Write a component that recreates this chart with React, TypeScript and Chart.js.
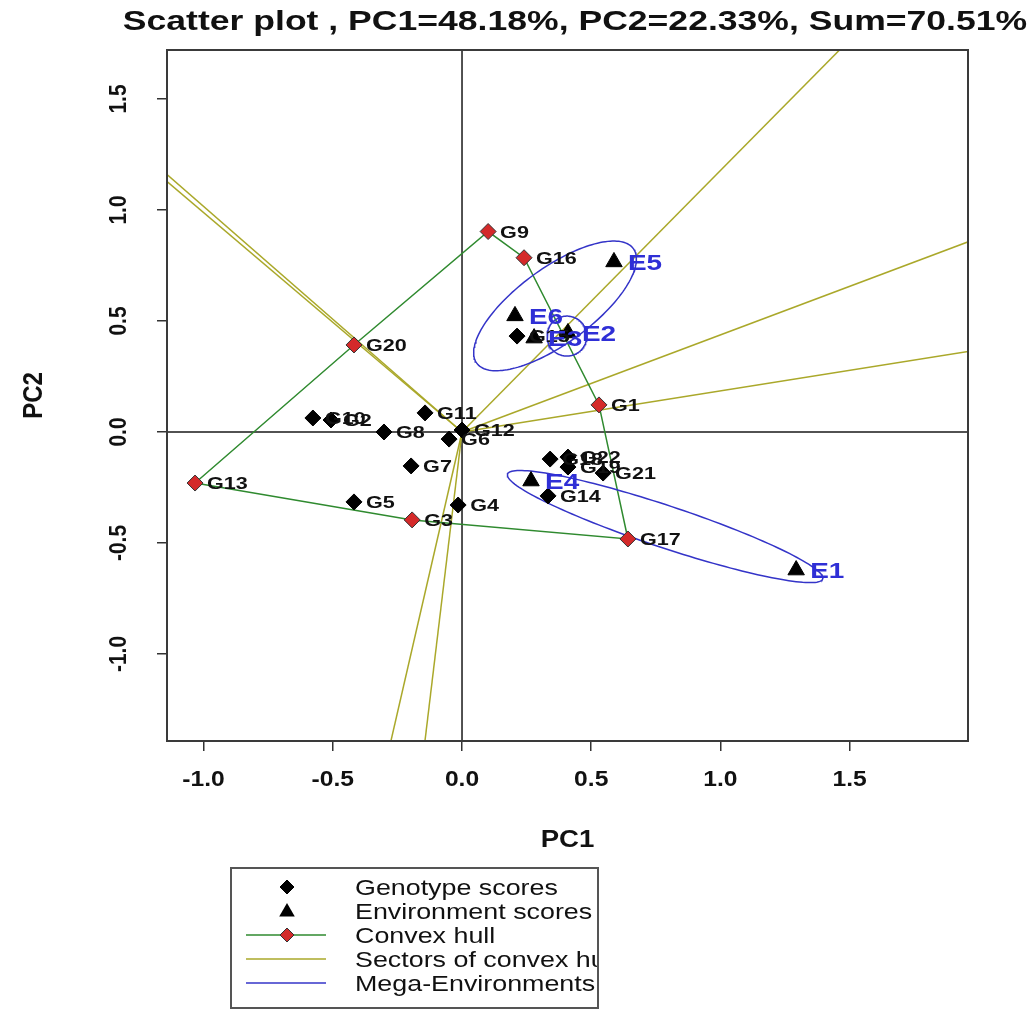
import React, { useEffect, useRef } from 'react';
import { Chart, registerables } from 'chart.js';

Chart.register(...registerables);

// ---------- data ----------
const titleText = 'Scatter plot , PC1=48.18%, PC2=22.33%, Sum=70.51%';
const xAxisTitle = 'PC1';
const yAxisTitle = 'PC2';

const genotypeNames = ['G1', 'G2', 'G3', 'G4', 'G5', 'G6', 'G7', 'G8', 'G9', 'G10', 'G11',
  'G12', 'G13', 'G14', 'G15', 'G16', 'G17', 'G18', 'G19', 'G20', 'G21', 'G22'];
const genotypePC1 = [0.530, -0.507, -0.193, -0.015, -0.418, -0.050, -0.197, -0.302, 0.101, -0.577, -0.143,
  0.000, -1.033, 0.333, 0.213, 0.240, 0.642, 0.341, 0.410, -0.418, 0.546, 0.410];
const genotypePC2 = [0.122, 0.054, -0.396, -0.329, -0.315, -0.032, -0.153, 0.000, 0.903, 0.063, 0.086,
  0.009, -0.230, -0.288, 0.432, 0.785, -0.482, -0.122, -0.158, 0.392, -0.185, -0.113];

const environmentNames = ['E1', 'E2', 'E3', 'E4', 'E5', 'E6'];
const environmentPC1 = [1.293, 0.410, 0.279, 0.267, 0.588, 0.205];
const environmentPC2 = [-0.622, 0.446, 0.423, -0.221, 0.766, 0.523];

// convex hull vertices (in drawing order)
const hullVertices = ['G13', 'G3', 'G17', 'G1', 'G16', 'G9', 'G20'];

// mega-environment ellipses: centre and two semi-axis vectors (PC units)
const megaCenterPC1 = [0.360, 0.786, 0.406];
const megaCenterPC2 = [0.568, -0.426, 0.432];
const megaAxisA = [[0.303, 0.258], [0.610, -0.236], [0.077, 0.0]];
const megaAxisB = [[0.086, -0.137], [-0.0256, -0.0898], [0.0, 0.09]];

const xTicks = [-1.0, -0.5, 0.0, 0.5, 1.0, 1.5];
const yTicks = [-1.0, -0.5, 0.0, 0.5, 1.0, 1.5];
const xRange = [-1.1416, 1.958];
const yRange = [-1.392, 1.7207];

const legendLabels = ['Genotype scores', 'Environment scores', 'Convex hull',
  'Sectors of convex hull', 'Mega-Environments'];

// ---------- styles ----------
const FONT = '"Liberation Sans", Arial, Helvetica, sans-serif';
const HULL_COLOR = '#2f8a2f';
const SECTOR_COLOR = '#aaa82a';
const MEGA_COLOR = '#3434c8';
const HULL_FILL = '#d42a2a';
const ENV_LABEL_COLOR = '#2f2fd6';

function drawText(ctx: CanvasRenderingContext2D, s: string, x: number, y: number, font: string,
  color: string, align: CanvasTextAlign = 'left', sx = 1.27, rotate = 0) {
  ctx.save();
  ctx.font = font;
  ctx.fillStyle = color;
  ctx.textAlign = align;
  ctx.textBaseline = 'alphabetic';
  ctx.translate(x, y);
  ctx.scale(sx, 1);
  if (rotate) ctx.rotate(rotate);
  ctx.fillText(s, 0, 0);
  ctx.restore();
}

function diamond(ctx: CanvasRenderingContext2D, x: number, y: number, r: number, fill: string, stroke: string) {
  ctx.save();
  ctx.beginPath();
  ctx.moveTo(x, y - r);
  ctx.lineTo(x + r, y);
  ctx.lineTo(x, y + r);
  ctx.lineTo(x - r, y);
  ctx.closePath();
  ctx.fillStyle = fill;
  ctx.fill();
  ctx.strokeStyle = stroke;
  ctx.lineWidth = 1;
  ctx.stroke();
  ctx.restore();
}

function triangle(ctx: CanvasRenderingContext2D, x: number, y: number, r: number) {
  ctx.save();
  ctx.beginPath();
  ctx.moveTo(x, y - r);
  ctx.lineTo(x + r * 0.866, y + r * 0.5);
  ctx.lineTo(x - r * 0.866, y + r * 0.5);
  ctx.closePath();
  ctx.fillStyle = '#000';
  ctx.fill();
  ctx.restore();
}

const textPlugin = {
  id: 'gge-text',
  beforeDatasetsDraw(chart: any) {
    const { ctx, chartArea: a, scales } = chart;
    const x0 = scales.x.getPixelForValue(0);
    const y0 = scales.y.getPixelForValue(0);
    ctx.save();
    ctx.strokeStyle = '#1a1a1a';
    ctx.lineWidth = 1.5;
    ctx.beginPath();
    ctx.moveTo(x0, a.top); ctx.lineTo(x0, a.bottom);
    ctx.moveTo(a.left, y0); ctx.lineTo(a.right, y0);
    ctx.stroke();
    ctx.restore();
  },
  afterDatasetsDraw(chart: any) {
    const { ctx, chartArea: a, scales } = chart;
    const sx = scales.x, sy = scales.y;

    // frame
    ctx.save();
    ctx.strokeStyle = '#3a3a3a';
    ctx.lineWidth = 2;
    ctx.strokeRect(a.left, a.top, a.right - a.left, a.bottom - a.top);
    ctx.restore();

    // genotype labels
    genotypeNames.forEach((n, i) => {
      const px = sx.getPixelForValue(genotypePC1[i]);
      const py = sy.getPixelForValue(genotypePC2[i]);
      drawText(ctx, n, px + 12, py + 6, `bold 17px ${FONT}`, '#111');
    });
    // environment labels
    environmentNames.forEach((n, i) => {
      const px = sx.getPixelForValue(environmentPC1[i]);
      const py = sy.getPixelForValue(environmentPC2[i]);
      drawText(ctx, n, px + 14, py + 8, `bold 22px ${FONT}`, ENV_LABEL_COLOR);
    });

    // tick labels
    xTicks.forEach(v => {
      drawText(ctx, v.toFixed(1), sx.getPixelForValue(v), 786, `bold 22px ${FONT}`, '#111', 'center', 1.12);
    });
    yTicks.forEach(v => {
      drawText(ctx, v.toFixed(1), 126, sy.getPixelForValue(v), `bold 21px ${FONT}`, '#111', 'center', 1.15, -Math.PI / 2);
    });

    // titles
    drawText(ctx, titleText, 575, 30, `bold 28px ${FONT}`, '#111', 'center', 1.27);
    drawText(ctx, xAxisTitle, (a.left + a.right) / 2, 847, `bold 24px ${FONT}`, '#111', 'center', 1.15);
    drawText(ctx, yAxisTitle, 42, (a.top + a.bottom) / 2, `bold 24px ${FONT}`, '#111', 'center', 1.15, -Math.PI / 2);

    // legend
    const lx = 231, ly = 868, lw = 367, lh = 140;
    const rows = [887, 911, 935, 959, 983];
    const symX = 287;
    ctx.save();
    ctx.beginPath();
    ctx.rect(lx, ly, lw, lh);
    ctx.clip();
    rows.forEach((ry, k) => {
      if (k === 0) diamond(ctx, symX, ry, 7, '#000', '#000');
      if (k === 1) triangle(ctx, symX, ry + 1, 9);
      if (k >= 2) {
        ctx.save();
        ctx.strokeStyle = k === 2 ? HULL_COLOR : k === 3 ? SECTOR_COLOR : MEGA_COLOR;
        ctx.lineWidth = 1.5;
        ctx.beginPath();
        ctx.moveTo(246, ry); ctx.lineTo(326, ry);
        ctx.stroke();
        ctx.restore();
        if (k === 2) diamond(ctx, symX, ry, 7, HULL_FILL, '#333');
      }
      drawText(ctx, legendLabels[k], 355, ry + 8, `22px ${FONT}`, '#111', 'left', 1.22);
    });
    ctx.restore();
    ctx.save();
    ctx.strokeStyle = '#555';
    ctx.lineWidth = 2;
    ctx.strokeRect(lx, ly, lw, lh);
    ctx.restore();
  },
};

export default function App() {
  const ref = useRef<HTMLCanvasElement | null>(null);

  useEffect(() => {
    if (!ref.current) return;

    const genoPts = genotypeNames.map((_, i) => ({ x: genotypePC1[i], y: genotypePC2[i] }));
    const onHull = genotypeNames.map(n => hullVertices.includes(n));
    const envPts = environmentNames.map((_, i) => ({ x: environmentPC1[i], y: environmentPC2[i] }));

    const hullPts = hullVertices.map(n => {
      const i = genotypeNames.indexOf(n);
      return { x: genotypePC1[i], y: genotypePC2[i] };
    });
    const hullLine = [...hullPts, hullPts[0]];

    // sector lines: perpendicular from origin to each hull edge, extended
    const sectorSets = hullPts.map((p, k) => {
      const q = hullPts[(k + 1) % hullPts.length];
      const dx = q.x - p.x, dy = q.y - p.y;
      const t = -(p.x * dx + p.y * dy) / (dx * dx + dy * dy);
      const fx = p.x + t * dx, fy = p.y + t * dy;
      const len = Math.hypot(fx, fy);
      return [{ x: 0, y: 0 }, { x: (fx / len) * 10, y: (fy / len) * 10 }];
    });

    const ellipseSets = megaCenterPC1.map((cx, k) => {
      const cy = megaCenterPC2[k];
      const A = megaAxisA[k], B = megaAxisB[k];
      const pts = [] as { x: number; y: number }[];
      for (let i = 0; i <= 160; i++) {
        const t = (i / 160) * Math.PI * 2;
        pts.push({ x: cx + A[0] * Math.cos(t) + B[0] * Math.sin(t), y: cy + A[1] * Math.cos(t) + B[1] * Math.sin(t) });
      }
      return pts;
    });

    const lineDs = (data: any, color: string, order: number) => ({
      type: 'scatter' as const,
      data,
      showLine: true,
      borderColor: color,
      borderWidth: 1.5,
      pointRadius: 0,
      fill: false,
      tension: 0,
      order,
    });

    const datasets: any[] = [
      {
        type: 'scatter',
        data: genoPts,
        pointStyle: 'rectRot',
        pointRadius: 8,
        backgroundColor: onHull.map(h => (h ? HULL_FILL : '#000')),
        borderColor: onHull.map(h => (h ? '#333' : '#000')),
        borderWidth: 1,
        order: 0,
      },
      {
        type: 'scatter',
        data: envPts,
        pointStyle: 'triangle',
        pointRadius: 9.5,
        backgroundColor: '#000',
        borderColor: '#000',
        borderWidth: 1,
        order: 1,
      },
      ...ellipseSets.map(e => lineDs(e, MEGA_COLOR, 2)),
      lineDs(hullLine, HULL_COLOR, 3),
      ...sectorSets.map(s => lineDs(s, SECTOR_COLOR, 4)),
    ];

    const chart = new Chart(ref.current, {
      type: 'scatter',
      data: { datasets },
      options: {
        responsive: false,
        animation: false,
        devicePixelRatio: 1,
        events: [],
        layout: { padding: { left: 157, right: 68, top: 50, bottom: 262 } },
        plugins: { legend: { display: false }, tooltip: { enabled: false }, title: { display: false } },
        scales: {
          x: {
            type: 'linear',
            min: xRange[0],
            max: xRange[1],
            position: 'bottom',
            afterBuildTicks: (s: any) => { s.ticks = xTicks.map(v => ({ value: v })); },
            afterFit: (s: any) => { s.height = 10; },
            ticks: { display: false },
            grid: { drawOnChartArea: false, drawTicks: true, tickLength: 10, color: '#333', lineWidth: 1.5 },
            border: { display: false },
          },
          y: {
            type: 'linear',
            min: yRange[0],
            max: yRange[1],
            position: 'left',
            afterBuildTicks: (s: any) => { s.ticks = yTicks.map(v => ({ value: v })); },
            afterFit: (s: any) => { s.width = 10; },
            ticks: { display: false },
            grid: { drawOnChartArea: false, drawTicks: true, tickLength: 10, color: '#333', lineWidth: 1.5 },
            border: { display: false },
          },
        },
      } as any,
      plugins: [textPlugin],
    });

    return () => chart.destroy();
  }, []);

  return (
    <div style={{ position: 'absolute', left: 0, top: 0, width: 1036, height: 1013, background: '#fff' }}>
      <canvas ref={ref} width={1036} height={1013} style={{ display: 'block' }} />
    </div>
  );
}
